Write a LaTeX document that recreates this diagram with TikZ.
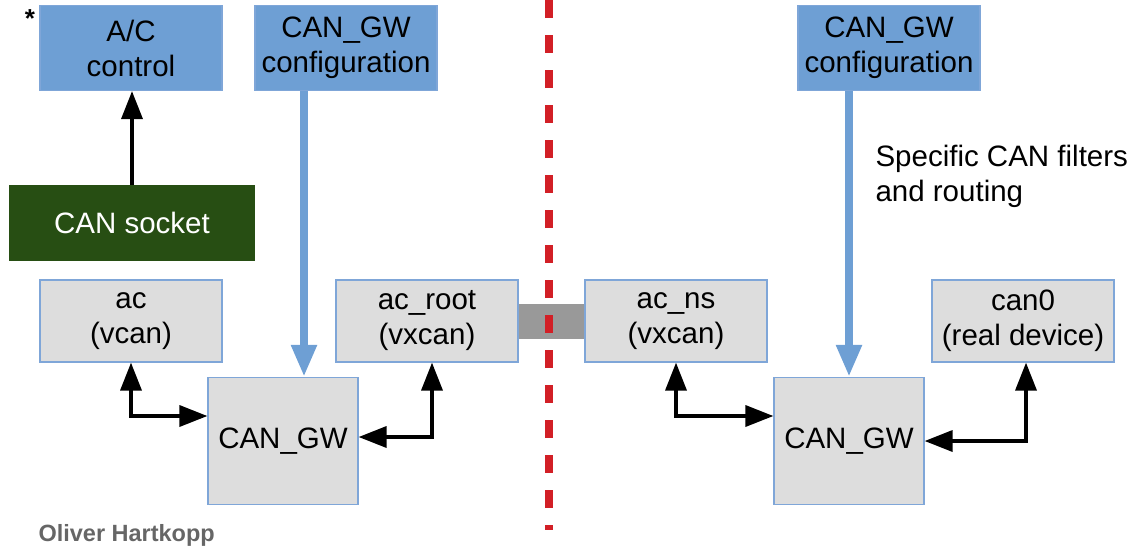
\documentclass[tikz,border=0pt]{standalone}
\usepackage{fontspec}
\setmainfont{Liberation Sans}
\usetikzlibrary{arrows.meta,positioning,calc}
\definecolor{cfgblue}{HTML}{6E9FD4}
\definecolor{boxgray}{HTML}{DDDDDD}
\definecolor{boxedge}{HTML}{7FA6D8}
\definecolor{sockgreen}{HTML}{274E13}
\definecolor{tunnelgray}{HTML}{999999}
\definecolor{nsred}{HTML}{D21F26}
\newcommand{\boxfont}{\fontsize{29.5}{35}\selectfont}

\begin{document}
\begin{tikzpicture}[
    x=1pt,y=-1pt,
    boite/.style  = {rectangle,draw=boxedge,fill=boxgray,line width=1.2pt,inner sep=0pt,
                     align=center,font=\boxfont,minimum width=182pt,minimum height=82pt},
    config/.style = {boite,fill=cfgblue,draw=boxedge,minimum height=85pt},
    passe/.style  = {boite,minimum width=150pt,minimum height=127pt},
    prise/.style  = {boite,fill=sockgreen,draw=sockgreen,text=white,
                     minimum width=245pt,minimum height=75pt},
    li/.style     = {black,line width=3.5pt,
                     {Triangle[length=28pt,width=21pt]}-{Triangle[length=28pt,width=21pt]}},
    up/.style     = {black,line width=3.5pt,-{Triangle[length=28pt,width=21pt]}},
    cfg/.style    = {cfgblue,line width=8pt,-{Triangle[length=32pt,width=24pt]}},
  ]
  \useasboundingbox (0,0) rectangle (1132,547);

  % -- host side -----------------------------------------------------------
  \node[config] (acc)  at (131,48)  {A/C\\control};
  \node[font=\fontsize{26}{28}\selectfont\bfseries] (star) at (30,19) {*};
  \node[config] (cfgl) at (346,48)  {CAN\_GW\\configuration};
  \node[prise]  (sock) at (132,223) {CAN socket};
  \node[boite]  (ac)   at (131,321) {ac\\(vcan)};
  \node[boite]  (root) at (427,321) {ac\_root\\(vxcan)};
  \node[passe]  (gwl)  at (283,441) {CAN\_GW};

  % -- namespace side ------------------------------------------------------
  \node[boite]  (ns)   at (676,321)  {ac\_ns\\(vxcan)};
  \node[boite]  (can0) at (1023,321) {can0\\(real device)};
  \node[config] (cfgr) at (889,48)   {CAN\_GW\\configuration};
  \node[passe]  (gwr)  at (849,441)  {CAN\_GW};
  \node[font=\boxfont,align=left,anchor=west] (filt) at (872,176)
       {Specific CAN filters\\and routing};

  % -- vxcan tunnel and namespace border -----------------------------------
  \draw[tunnelgray,line width=35pt] (root) -- (ns);
  \coordinate (haut) at (549,0);
  \coordinate (bas)  at (549,530);
  \draw[nsred,line width=8pt,dash pattern=on 18pt off 17pt] (haut) -- (bas);

  % -- connectors ----------------------------------------------------------
  \draw[up]  (sock.north) -- (sock.north |- acc.south);
  \draw[cfg] ([xshift=-42pt]cfgl.south) -- ([xshift=-42pt]cfgl.south |- gwl.north);
  \draw[cfg] (cfgr.south -| gwr.north) -- (gwr.north);

  \draw[li] (ac.south) |- ([yshift=25pt]gwl.west);
  \draw[li] ([xshift=5pt]root.south) |- ([yshift=4pt]gwl.east);
  \draw[li] (ns.south) |- ([yshift=25pt]gwr.west);
  \draw[li] ([xshift=3pt]can0.south) |- (gwr.east);

  \node[font=\fontsize{23.5}{25}\selectfont\bfseries,text=black!60,anchor=west] (auteur)
       at (35,535) {Oliver Hartkopp};
\end{tikzpicture}
\end{document}
